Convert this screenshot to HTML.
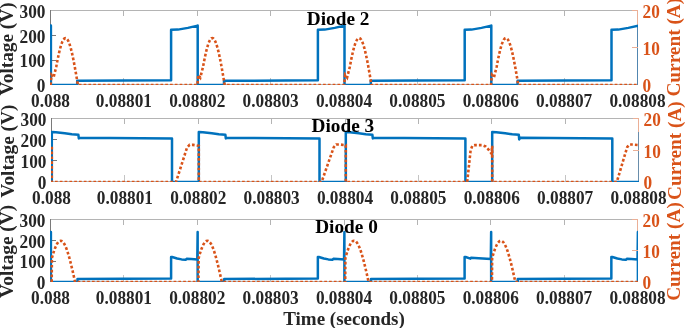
<!DOCTYPE html>
<html><head><meta charset="utf-8"><style>html,body{margin:0;padding:0;background:#fff;width:685px;height:328px;overflow:hidden}svg{display:block;will-change:transform}text{font-family:"Liberation Serif",serif;font-weight:bold}</style></head><body>
<svg width="685" height="328" viewBox="0 0 685 328">
<defs>
<clipPath id="c0"><rect x="50" y="10" width="588" height="75"/></clipPath>
<clipPath id="c1"><rect x="51" y="118" width="588" height="64"/></clipPath>
<clipPath id="c2"><rect x="50" y="219" width="588" height="63"/></clipPath>
</defs>
<rect x="50" y="10" width="587" height="1" fill="#b4b4b4"/>
<rect x="50" y="10" width="1" height="75" fill="#7a7a7a"/>
<rect x="50" y="84" width="587" height="1" fill="#b4b4b4"/>
<rect x="123" y="10" width="1" height="6" fill="#b4b4b4"/>
<rect x="123" y="78" width="1" height="6" fill="#c4c4c4"/>
<rect x="197" y="10" width="1" height="6" fill="#b4b4b4"/>
<rect x="197" y="78" width="1" height="6" fill="#c4c4c4"/>
<rect x="270" y="10" width="1" height="6" fill="#b4b4b4"/>
<rect x="270" y="78" width="1" height="6" fill="#c4c4c4"/>
<rect x="344" y="10" width="1" height="6" fill="#b4b4b4"/>
<rect x="344" y="78" width="1" height="6" fill="#c4c4c4"/>
<rect x="417" y="10" width="1" height="6" fill="#b4b4b4"/>
<rect x="417" y="78" width="1" height="6" fill="#c4c4c4"/>
<rect x="490" y="10" width="1" height="6" fill="#b4b4b4"/>
<rect x="490" y="78" width="1" height="6" fill="#c4c4c4"/>
<rect x="564" y="10" width="1" height="6" fill="#b4b4b4"/>
<rect x="564" y="78" width="1" height="6" fill="#c4c4c4"/>
<rect x="50" y="60" width="6" height="1" fill="#7a7a7a"/>
<rect x="50" y="35" width="6" height="1" fill="#7a7a7a"/>
<rect x="637" y="10" width="1" height="75" fill="#ebaf96"/>
<g clip-path="url(#c0)">
<path d="M48 25.4 L50.9 25.4 L50.9 85 L77.2 85 L77.2 80.83 L171.1 80.28 L171.1 29.87 L177.9 29.62 L187.9 27.88 L197.7 25.65 L197.7 25.4 L197.7 85 L224 85 L224 80.83 L317.9 80.28 L317.9 29.87 L324.7 29.62 L334.7 27.88 L344.5 25.65 L344.5 25.4 L344.5 85 L370.8 85 L370.8 80.83 L464.7 80.28 L464.7 29.87 L471.5 29.62 L481.5 27.88 L491.3 25.65 L491.3 25.4 L491.3 85 L517.6 85 L517.6 80.83 L611.5 80.28 L611.5 29.87 L618.3 29.62 L628.3 27.88 L638.6 25.65 L638.6 85" fill="none" stroke="#0072BD" stroke-width="2.5" stroke-linejoin="round"/>
<path d="M50.6 85 L51.5 74.94 L53.5 77.55 L56.2 67.04 L57.23 61.53 L58.27 56.43 L59.3 51.81 L60.33 47.76 L61.37 44.35 L62.4 41.64 L63.43 39.66 L64.47 38.47 L65.5 38.07 L66.53 38.47 L67.57 39.66 L68.6 41.64 L69.63 44.35 L70.67 47.76 L71.7 51.81 L72.73 56.43 L73.77 61.53 L74.8 67.04 L75.83 72.85 L76.87 78.87 L77.9 85 L197.4 85 L197.4 85 L198.3 74.94 L200.3 77.55 L203 67.04 L204.03 61.53 L205.07 56.43 L206.1 51.81 L207.13 47.76 L208.17 44.35 L209.2 41.64 L210.23 39.66 L211.27 38.47 L212.3 38.07 L213.33 38.47 L214.37 39.66 L215.4 41.64 L216.43 44.35 L217.47 47.76 L218.5 51.81 L219.53 56.43 L220.57 61.53 L221.6 67.04 L222.63 72.85 L223.67 78.87 L224.7 85 L344.2 85 L344.2 85 L345.1 74.94 L347.1 77.55 L349.8 67.04 L350.83 61.53 L351.87 56.43 L352.9 51.81 L353.93 47.76 L354.97 44.35 L356 41.64 L357.03 39.66 L358.07 38.47 L359.1 38.07 L360.13 38.47 L361.17 39.66 L362.2 41.64 L363.23 44.35 L364.27 47.76 L365.3 51.81 L366.33 56.43 L367.37 61.53 L368.4 67.04 L369.43 72.85 L370.47 78.87 L371.5 85 L491 85 L491 85 L491.9 74.94 L493.9 77.55 L496.6 67.04 L497.63 61.53 L498.67 56.43 L499.7 51.81 L500.73 47.76 L501.77 44.35 L502.8 41.64 L503.83 39.66 L504.87 38.47 L505.9 38.07 L506.93 38.47 L507.97 39.66 L509 41.64 L510.03 44.35 L511.07 47.76 L512.1 51.81 L513.13 56.43 L514.17 61.53 L515.2 67.04 L516.23 72.85 L517.27 78.87 L518.3 85 L637.8 85" fill="none" stroke="#D95319" stroke-width="2.6" stroke-dasharray="2.7 2.1"/>
</g>
<rect x="632" y="10" width="5" height="1" fill="#ebaf96"/>
<rect x="632" y="47" width="6" height="1" fill="#ebaf96"/>
<text transform="translate(50.5 107) scale(0.935 1)" font-size="18.5" text-anchor="middle" fill="#262626">0.088</text>
<text transform="translate(123.88 107) scale(0.935 1)" font-size="18.5" text-anchor="middle" fill="#262626">0.08801</text>
<text transform="translate(197.25 107) scale(0.935 1)" font-size="18.5" text-anchor="middle" fill="#262626">0.08802</text>
<text transform="translate(270.62 107) scale(0.935 1)" font-size="18.5" text-anchor="middle" fill="#262626">0.08803</text>
<text transform="translate(344 107) scale(0.935 1)" font-size="18.5" text-anchor="middle" fill="#262626">0.08804</text>
<text transform="translate(417.38 107) scale(0.935 1)" font-size="18.5" text-anchor="middle" fill="#262626">0.08805</text>
<text transform="translate(490.75 107) scale(0.935 1)" font-size="18.5" text-anchor="middle" fill="#262626">0.08806</text>
<text transform="translate(564.12 107) scale(0.935 1)" font-size="18.5" text-anchor="middle" fill="#262626">0.08807</text>
<text transform="translate(637.5 107) scale(0.935 1)" font-size="18.5" text-anchor="middle" fill="#262626">0.08808</text>
<text transform="translate(45.5 92.3) scale(0.935 1)" font-size="18.5" text-anchor="end" fill="#262626">0</text>
<text transform="translate(45.5 67.47) scale(0.935 1)" font-size="18.5" text-anchor="end" fill="#262626">100</text>
<text transform="translate(45.5 42.63) scale(0.935 1)" font-size="18.5" text-anchor="end" fill="#262626">200</text>
<text transform="translate(45.5 17.8) scale(0.935 1)" font-size="18.5" text-anchor="end" fill="#262626">300</text>
<text transform="translate(642.5 92.3) scale(0.935 1)" font-size="18.5" fill="#D95319">0</text>
<text transform="translate(642.5 55.05) scale(0.935 1)" font-size="18.5" fill="#D95319">10</text>
<text transform="translate(642.5 17.8) scale(0.935 1)" font-size="18.5" fill="#D95319">20</text>
<text x="306.8" y="24.7" font-size="19.3">Diode 2</text>
<text transform="translate(13 48.9) rotate(-90)" font-size="19.3" text-anchor="middle" fill="#262626">Voltage (V)</text>
<text transform="translate(680.2 47.2) rotate(-90)" font-size="19.3" text-anchor="middle" fill="#D95319">Current (A)</text>
<rect x="51" y="118" width="587" height="1" fill="#b4b4b4"/>
<rect x="51" y="118" width="1" height="64" fill="#7a7a7a"/>
<rect x="51" y="181" width="587" height="1" fill="#b4b4b4"/>
<rect x="124" y="118" width="1" height="6" fill="#b4b4b4"/>
<rect x="124" y="175" width="1" height="6" fill="#c4c4c4"/>
<rect x="198" y="118" width="1" height="6" fill="#b4b4b4"/>
<rect x="198" y="175" width="1" height="6" fill="#c4c4c4"/>
<rect x="271" y="118" width="1" height="6" fill="#b4b4b4"/>
<rect x="271" y="175" width="1" height="6" fill="#c4c4c4"/>
<rect x="345" y="118" width="1" height="6" fill="#b4b4b4"/>
<rect x="345" y="175" width="1" height="6" fill="#c4c4c4"/>
<rect x="418" y="118" width="1" height="6" fill="#b4b4b4"/>
<rect x="418" y="175" width="1" height="6" fill="#c4c4c4"/>
<rect x="491" y="118" width="1" height="6" fill="#b4b4b4"/>
<rect x="491" y="175" width="1" height="6" fill="#c4c4c4"/>
<rect x="565" y="118" width="1" height="6" fill="#b4b4b4"/>
<rect x="565" y="175" width="1" height="6" fill="#c4c4c4"/>
<rect x="51" y="160" width="6" height="1" fill="#7a7a7a"/>
<rect x="51" y="139" width="6" height="1" fill="#7a7a7a"/>
<rect x="638" y="118" width="1" height="64" fill="#ebaf96"/>
<g clip-path="url(#c1)">
<path d="M48 182 L51.8 182 L51.8 132.05 L55.8 132.26 L64.8 133.32 L71.8 134.27 L78.4 134.8 L78.8 138.4 L79.8 137.87 L172 138.4 L172 182 L198.8 182 L198.8 132.05 L202.8 132.26 L211.8 133.32 L218.8 134.27 L225.4 134.8 L225.8 138.4 L226.8 137.87 L319.5 138.4 L319.5 182 L345.8 182 L345.8 132.05 L349.8 132.26 L358.8 133.32 L365.8 134.27 L372.4 134.8 L372.8 138.4 L373.8 137.87 L465.4 138.4 L465.4 182 L492.2 182 L492.2 132.05 L496.2 132.26 L505.2 133.32 L512.2 134.27 L518.8 134.8 L519.2 139.45 L520.2 137.87 L612.3 138.4 L612.3 182 L639.7 182 L639.7 132.05" fill="none" stroke="#0072BD" stroke-width="2.5" stroke-linejoin="round"/>
<path d="M48 145.81 L51.8 145.81 L51.8 182 L176 182 L187 147.71 L189.6 144.85 L193 144.85 L198.8 145.81 L198.8 145.81 L198.8 182 L321.6 182 L333.8 147.07 L336.2 144.53 L340 144.53 L345.8 145.17 L345.8 145.81 L345.8 182 L467.2 182 L470.6 150.25 L472.4 145.81 L475 145.17 L482 145.17 L485.5 146.44 L488.5 149.62 L491.6 153.74 L492.2 145.81 L492.2 182 L616.8 182 L627.2 147.07 L629.4 144.53 L633 144.53 L639.7 145.17" fill="none" stroke="#D95319" stroke-width="2.6" stroke-dasharray="2.7 2.1"/>
</g>
<rect x="633" y="118" width="5" height="1" fill="#ebaf96"/>
<rect x="633" y="150" width="6" height="1" fill="#ebaf96"/>
<text transform="translate(51.5 204) scale(0.935 1)" font-size="18.5" text-anchor="middle" fill="#262626">0.088</text>
<text transform="translate(124.88 204) scale(0.935 1)" font-size="18.5" text-anchor="middle" fill="#262626">0.08801</text>
<text transform="translate(198.25 204) scale(0.935 1)" font-size="18.5" text-anchor="middle" fill="#262626">0.08802</text>
<text transform="translate(271.62 204) scale(0.935 1)" font-size="18.5" text-anchor="middle" fill="#262626">0.08803</text>
<text transform="translate(345 204) scale(0.935 1)" font-size="18.5" text-anchor="middle" fill="#262626">0.08804</text>
<text transform="translate(418.38 204) scale(0.935 1)" font-size="18.5" text-anchor="middle" fill="#262626">0.08805</text>
<text transform="translate(491.75 204) scale(0.935 1)" font-size="18.5" text-anchor="middle" fill="#262626">0.08806</text>
<text transform="translate(565.12 204) scale(0.935 1)" font-size="18.5" text-anchor="middle" fill="#262626">0.08807</text>
<text transform="translate(638.5 204) scale(0.935 1)" font-size="18.5" text-anchor="middle" fill="#262626">0.08808</text>
<text transform="translate(46.5 189.3) scale(0.935 1)" font-size="18.5" text-anchor="end" fill="#262626">0</text>
<text transform="translate(46.5 168.13) scale(0.935 1)" font-size="18.5" text-anchor="end" fill="#262626">100</text>
<text transform="translate(46.5 146.97) scale(0.935 1)" font-size="18.5" text-anchor="end" fill="#262626">200</text>
<text transform="translate(46.5 125.8) scale(0.935 1)" font-size="18.5" text-anchor="end" fill="#262626">300</text>
<text transform="translate(643.5 189.3) scale(0.935 1)" font-size="18.5" fill="#D95319">0</text>
<text transform="translate(643.5 157.55) scale(0.935 1)" font-size="18.5" fill="#D95319">10</text>
<text transform="translate(643.5 125.8) scale(0.935 1)" font-size="18.5" fill="#D95319">20</text>
<text x="311.5" y="132.3" font-size="19.3">Diode 3</text>
<text transform="translate(14.2 151.2) rotate(-90)" font-size="19.3" text-anchor="middle" fill="#262626">Voltage (V)</text>
<text transform="translate(681.3 150.6) rotate(-90)" font-size="19.3" text-anchor="middle" fill="#D95319">Current (A)</text>
<rect x="50" y="219" width="587" height="1" fill="#b4b4b4"/>
<rect x="50" y="219" width="1" height="63" fill="#7a7a7a"/>
<rect x="50" y="281" width="587" height="1" fill="#b4b4b4"/>
<rect x="123" y="219" width="1" height="6" fill="#b4b4b4"/>
<rect x="123" y="275" width="1" height="6" fill="#c4c4c4"/>
<rect x="197" y="219" width="1" height="6" fill="#b4b4b4"/>
<rect x="197" y="275" width="1" height="6" fill="#c4c4c4"/>
<rect x="270" y="219" width="1" height="6" fill="#b4b4b4"/>
<rect x="270" y="275" width="1" height="6" fill="#c4c4c4"/>
<rect x="344" y="219" width="1" height="6" fill="#b4b4b4"/>
<rect x="344" y="275" width="1" height="6" fill="#c4c4c4"/>
<rect x="417" y="219" width="1" height="6" fill="#b4b4b4"/>
<rect x="417" y="275" width="1" height="6" fill="#c4c4c4"/>
<rect x="490" y="219" width="1" height="6" fill="#b4b4b4"/>
<rect x="490" y="275" width="1" height="6" fill="#c4c4c4"/>
<rect x="564" y="219" width="1" height="6" fill="#b4b4b4"/>
<rect x="564" y="275" width="1" height="6" fill="#c4c4c4"/>
<rect x="50" y="261" width="6" height="1" fill="#7a7a7a"/>
<rect x="50" y="240" width="6" height="1" fill="#7a7a7a"/>
<rect x="637" y="219" width="1" height="63" fill="#ebaf96"/>
<g clip-path="url(#c2)">
<path d="M48 232 L50.9 232 L50.9 282 L77.5 282 L77.5 279.08 L171.1 278.46 L171.1 257 L172.1 257 L177.1 258.46 L181.6 259.4 L185.6 259.81 L186.6 258.77 L191.1 258.98 L197.3 259.4 L197.65 232 L197.65 232 L197.65 282 L224.25 282 L224.25 279.08 L317.85 278.46 L317.85 257 L318.85 257 L323.85 258.46 L328.35 259.4 L332.35 259.81 L333.35 258.77 L337.85 258.98 L344.05 259.4 L344.4 232 L344.4 232 L344.4 282 L371 282 L371 279.08 L464.6 278.46 L464.6 257 L465.6 257 L470.4 258.67 L471 257.73 L478.6 258.35 L490.8 259.08 L491.15 232 L491.15 232 L491.15 282 L517.75 282 L517.75 279.08 L611.35 278.46 L611.35 257 L612.35 257 L617.35 258.46 L621.85 259.4 L625.85 259.81 L626.85 258.77 L631.35 258.98 L637.55 259.4 L637.9 232 L637.9 282" fill="none" stroke="#0072BD" stroke-width="2.5" stroke-linejoin="round"/>
<path d="M51.7 282 L51.9 258.03 L52.87 254.64 L53.83 251.56 L54.8 248.81 L55.77 246.42 L56.73 244.43 L57.7 242.85 L58.67 241.7 L59.63 241 L60.6 240.75 L61.57 240.96 L62.53 241.61 L63.5 242.72 L64.47 244.25 L65.43 246.21 L66.4 248.55 L67.37 251.27 L68.33 254.32 L69.3 257.68 L70.27 261.31 L71.23 265.17 L72.2 269.21 L73.17 273.4 L74.13 277.67 L75.1 282 L197.65 282 L198.45 282 L198.65 258.03 L199.62 254.64 L200.58 251.56 L201.55 248.81 L202.52 246.42 L203.48 244.43 L204.45 242.85 L205.42 241.7 L206.38 241 L207.35 240.75 L208.32 240.96 L209.28 241.61 L210.25 242.72 L211.22 244.25 L212.18 246.21 L213.15 248.55 L214.12 251.27 L215.08 254.32 L216.05 257.68 L217.02 261.31 L217.98 265.17 L218.95 269.21 L219.92 273.4 L220.88 277.67 L221.85 282 L344.4 282 L345.2 282 L345.4 258.03 L346.37 254.64 L347.33 251.56 L348.3 248.81 L349.27 246.42 L350.23 244.43 L351.2 242.85 L352.17 241.7 L353.13 241 L354.1 240.75 L355.07 240.96 L356.03 241.61 L357 242.72 L357.97 244.25 L358.93 246.21 L359.9 248.55 L360.87 251.27 L361.83 254.32 L362.8 257.68 L363.77 261.31 L364.73 265.17 L365.7 269.21 L366.67 273.4 L367.63 277.67 L368.6 282 L491.15 282 L491.95 282 L492.15 258.03 L493.12 254.64 L494.08 251.56 L495.05 248.81 L496.02 246.42 L496.98 244.43 L497.95 242.85 L498.92 241.7 L499.88 241 L500.85 240.75 L501.82 240.96 L502.78 241.61 L503.75 242.72 L504.72 244.25 L505.68 246.21 L506.65 248.55 L507.62 251.27 L508.58 254.32 L509.55 257.68 L510.52 261.31 L511.48 265.17 L512.45 269.21 L513.42 273.4 L514.38 277.67 L515.35 282 L637.9 282" fill="none" stroke="#D95319" stroke-width="2.6" stroke-dasharray="2.7 2.1"/>
</g>
<rect x="632" y="219" width="5" height="1" fill="#ebaf96"/>
<rect x="632" y="250" width="6" height="1" fill="#ebaf96"/>
<text transform="translate(50.5 304) scale(0.935 1)" font-size="18.5" text-anchor="middle" fill="#262626">0.088</text>
<text transform="translate(123.88 304) scale(0.935 1)" font-size="18.5" text-anchor="middle" fill="#262626">0.08801</text>
<text transform="translate(197.25 304) scale(0.935 1)" font-size="18.5" text-anchor="middle" fill="#262626">0.08802</text>
<text transform="translate(270.62 304) scale(0.935 1)" font-size="18.5" text-anchor="middle" fill="#262626">0.08803</text>
<text transform="translate(344 304) scale(0.935 1)" font-size="18.5" text-anchor="middle" fill="#262626">0.08804</text>
<text transform="translate(417.38 304) scale(0.935 1)" font-size="18.5" text-anchor="middle" fill="#262626">0.08805</text>
<text transform="translate(490.75 304) scale(0.935 1)" font-size="18.5" text-anchor="middle" fill="#262626">0.08806</text>
<text transform="translate(564.12 304) scale(0.935 1)" font-size="18.5" text-anchor="middle" fill="#262626">0.08807</text>
<text transform="translate(637.5 304) scale(0.935 1)" font-size="18.5" text-anchor="middle" fill="#262626">0.08808</text>
<text transform="translate(45.5 289.3) scale(0.935 1)" font-size="18.5" text-anchor="end" fill="#262626">0</text>
<text transform="translate(45.5 268.47) scale(0.935 1)" font-size="18.5" text-anchor="end" fill="#262626">100</text>
<text transform="translate(45.5 247.63) scale(0.935 1)" font-size="18.5" text-anchor="end" fill="#262626">200</text>
<text transform="translate(45.5 226.8) scale(0.935 1)" font-size="18.5" text-anchor="end" fill="#262626">300</text>
<text transform="translate(642.5 289.3) scale(0.935 1)" font-size="18.5" fill="#D95319">0</text>
<text transform="translate(642.5 258.05) scale(0.935 1)" font-size="18.5" fill="#D95319">10</text>
<text transform="translate(642.5 226.8) scale(0.935 1)" font-size="18.5" fill="#D95319">20</text>
<text x="315.2" y="232.7" font-size="19.3">Diode 0</text>
<text transform="translate(12.8 251.4) rotate(-90)" font-size="19.3" text-anchor="middle" fill="#262626">Voltage (V)</text>
<text transform="translate(680.2 251.5) rotate(-90)" font-size="19.3" text-anchor="middle" fill="#D95319">Current (A)</text>
<text x="344" y="325.4" font-size="19" text-anchor="middle" fill="#262626">Time (seconds)</text>
</svg></body></html>
